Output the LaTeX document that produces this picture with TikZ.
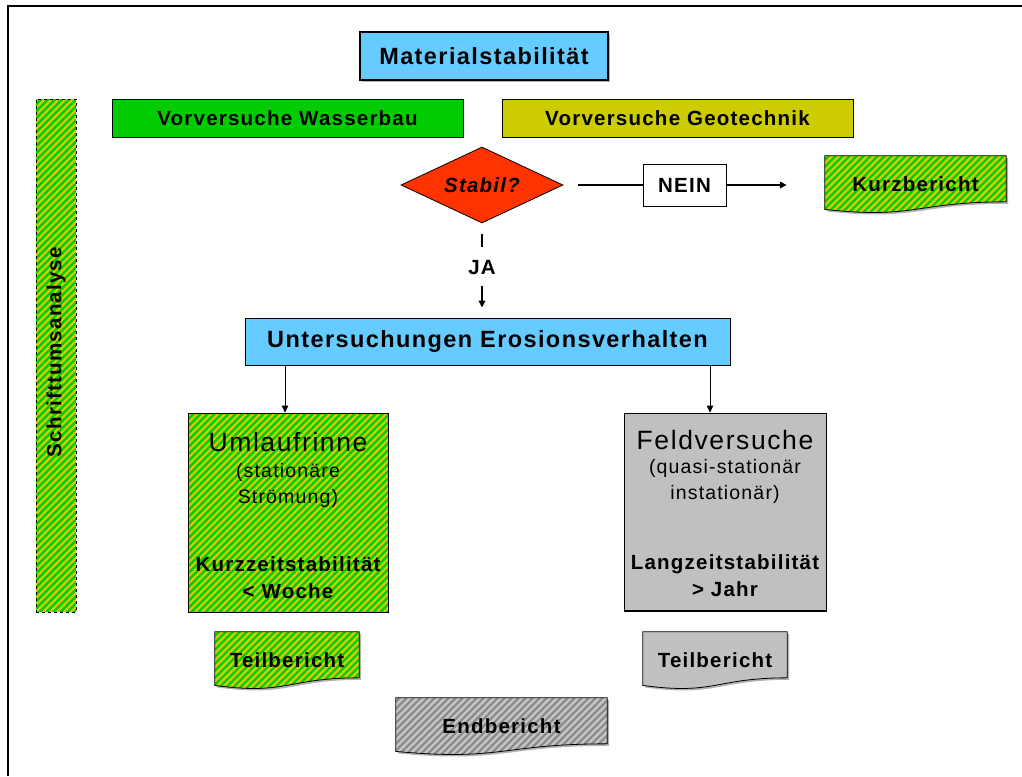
\documentclass[tikz,border=0pt]{standalone}
\usepackage{fontspec}
\setmainfont{Liberation Sans}[LetterSpace=6]
\usetikzlibrary{shapes.geometric,arrows.meta,calc,shadows}
\pgfdeclarelayer{background}
\pgfsetlayers{background,main}
\definecolor{lblue}{HTML}{66CCFF}
\definecolor{cgreen}{HTML}{00CC00}
\definecolor{colive}{HTML}{CCCC00}
\definecolor{cyell}{HTML}{CCCC00}
\definecolor{cred}{HTML}{FF3300}
\definecolor{cgray}{HTML}{C0C0C0}
\definecolor{cdgray}{HTML}{8A8A8A}
\definecolor{clgray}{HTML}{C4C4C4}
\newcommand\ftTitle{\bfseries\fontsize{23.5}{26}\selectfont}
\newcommand\ftB{\bfseries\fontsize{20.5}{23}\selectfont}
\newcommand\ftBig{\fontsize{26.5}{30}\selectfont}
\newcommand\ftR{\fontsize{19.5}{26}\selectfont}
\newcommand\ftBtwo{\bfseries\fontsize{20.5}{27}\selectfont}
\newcommand\docshape[2]{%
  \begin{pgfonlayer}{background}
  \path[#2] (#1.north west) -- (#1.north east)
    -- ($(#1.north east)!0.802!(#1.south east)$)
    .. controls ($(#1.north)!0.802!(#1.south)$) and ($(#1.north)!1.1075!(#1.south)$)
    .. ($(#1.north west)!0.934!(#1.south west)$) -- cycle;
  \end{pgfonlayer}}
\tikzset{
  box/.style={draw, line width=0.8pt, inner sep=0pt},
  stripes/.style={path picture={
      \foreach \s in {-525,-518,...,235}
        \draw[#1, solid, line width=2.4pt] ([xshift=\s pt]path picture bounding box.south west) -- ++(45:760pt);}},
  hatchG/.style={fill=cgreen, stripes=cyell},
  hatchD/.style={fill=cdgray, stripes=clgray},
  shad/.style={drop shadow={shadow xshift=2pt, shadow yshift=-2pt, opacity=0.3, fill=black}},
  docn/.style={inner sep=0pt, font=\ftB},
  arr/.style={-{Triangle[length=7pt,width=6.5pt]}},
}
\begin{document}
\begin{tikzpicture}[x=1pt,y=-1pt]
\useasboundingbox (0,0) rectangle (1022,776);
\draw[line width=2.5pt] (8,776) -- (8,6) -- (1022,6);

\node[box, fill=lblue, line width=2.5pt, shad, minimum width=248pt, minimum height=48pt, font=\ftTitle] (mat) at (484,56) {Materialstabilität};
\node[box, fill=cgreen, minimum width=351pt, minimum height=38pt, font=\ftB] (vw) at (287.5,118) {Vorversuche Wasserbau};
\node[box, fill=colive, minimum width=351pt, minimum height=38pt, font=\ftB] (vg) at (677.5,118) {Vorversuche Geotechnik};

\node[box, hatchG, dashed, minimum width=40pt, minimum height=513pt] (schr) at (56,355.5) {};
\node[rotate=90, font=\ftB] (schrt) at (56,352) {Schrifttumsanalyse};

\node[diamond, aspect=2, draw, line width=0.8pt, fill=cred, minimum width=162pt, minimum height=76pt, inner sep=0pt, font=\bfseries\itshape\fontsize{20.5}{23}\selectfont] (dia) at (482,185) {Stabil?};
\node[box, fill=white, minimum width=83pt, minimum height=42pt, font=\ftB] (nein) at (684.5,185) {NEIN};
\node[docn, minimum width=181pt, minimum height=57pt] (kurz) at (915.5,184.5) {Kurzbericht};
\docshape{kurz}{hatchG, draw, line width=0.8pt, shad}

\draw[line width=1.8pt, shorten <=15pt] (dia.east) -- (nein.west);
\draw[line width=1.8pt, arr, shorten >=38pt] (nein.east) -- (nein.east -| kurz.west);

\node[font=\ftB] (ja) at (482,268) {JA};
\node[box, fill=lblue, minimum width=485pt, minimum height=47pt, font=\ftTitle] (unter) at (487.5,341.5) {Untersuchungen Erosionsverhalten};
\draw[line width=2.2pt] ([yshift=-11pt]dia.south) -- ([yshift=10pt]ja.north);
\draw[line width=2.2pt, arr, shorten >=10pt] ([yshift=-7pt]ja.south) -- (unter.north -| ja.south);

\node[box, hatchG, minimum width=200pt, minimum height=199pt] (uml) at (288,512.5) {};
\node[font=\ftBig] (umlt) at (288,442) {Umlaufrinne};
\node[font=\ftR, align=center] (umls) at (288,485) {(stationäre\\Strömung)};
\node[font=\ftBtwo, align=center] (umlk) at (288,578) {Kurzzeitstabilität\\< Woche};

\node[box, fill=cgray, minimum width=202pt, minimum height=198pt] (feld) at (725,512) {};
\draw[line width=2pt] (feld.south west) -- (feld.south east);
\node[font=\ftBig] (feldt) at (725,440) {Feldversuche};
\node[font=\ftR, align=center] (felds) at (725,481) {(quasi-stationär\\instationär)};
\node[font=\ftBtwo, align=center] (feldk) at (725,576) {Langzeitstabilität\\> Jahr};

\draw[line width=0.8pt, arr] ([xshift=-3pt]uml.north |- unter.south) -- ([xshift=-3pt]uml.north);
\draw[line width=0.8pt, arr] ([xshift=-15pt]feld.north |- unter.south) -- ([xshift=-15pt]feld.north);

\node[docn, minimum width=144pt, minimum height=57pt] (teil1) at (287,660.5) {Teilbericht};
\docshape{teil1}{hatchG, draw, line width=0.8pt, shad}
\node[docn, minimum width=144pt, minimum height=57pt] (teil2) at (715,660.5) {Teilbericht};
\docshape{teil2}{fill=cgray, draw, line width=0.8pt, shad}
\node[docn, minimum width=211pt, minimum height=57pt] (end) at (501.5,726.5) {Endbericht};
\docshape{end}{hatchD, draw, line width=0.8pt, shad}
\end{tikzpicture}
\end{document}
